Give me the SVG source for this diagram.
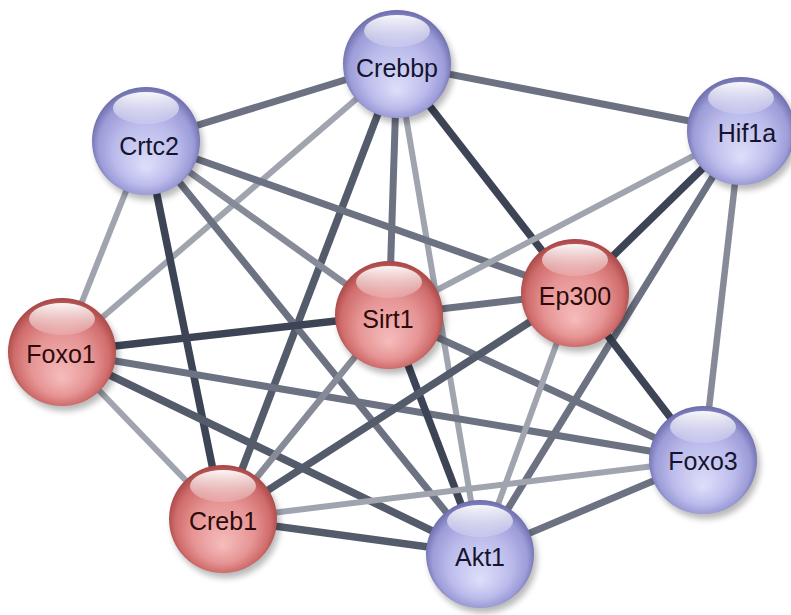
<svg xmlns="http://www.w3.org/2000/svg" width="791" height="615" viewBox="0 0 791 615">
<defs>
<style>
.e{fill:none;stroke-linecap:butt}
.d{stroke:#3d4455;stroke-width:7.5}
.md{stroke:#545b6b;stroke-width:7.5}
.m{stroke:#6c7282;stroke-width:7}
.lm{stroke:#868b97;stroke-width:6.5}
.l{stroke:#a0a4ae;stroke-width:6}
.lbl{font-family:"Liberation Sans",Arial,sans-serif;font-size:25px;text-anchor:middle;dominant-baseline:central}
.lb{fill:#14142e}
.lr{fill:#2e0a0a}
</style>
<radialGradient id="gb" cx="50%" cy="52%" r="52%" fx="50%" fy="75%">
<stop offset="0" stop-color="#dedefa"/>
<stop offset="0.55" stop-color="#bcbcec"/>
<stop offset="0.85" stop-color="#9c9cd8"/>
<stop offset="1" stop-color="#6c6cac"/>
</radialGradient>
<radialGradient id="gr" cx="50%" cy="52%" r="52%" fx="50%" fy="75%">
<stop offset="0" stop-color="#f6bcbc"/>
<stop offset="0.55" stop-color="#e69494"/>
<stop offset="0.85" stop-color="#d06c6c"/>
<stop offset="1" stop-color="#a84646"/>
</radialGradient>
<linearGradient id="hl" x1="0" y1="0" x2="0" y2="1">
<stop offset="0" stop-color="#ffffff" stop-opacity="0.95"/>
<stop offset="1" stop-color="#ffffff" stop-opacity="0.15"/>
</linearGradient>
<filter id="sh" x="-30%" y="-30%" width="160%" height="160%">
<feGaussianBlur stdDeviation="3"/>
</filter>
<g id="ballB">
<circle cx="3" cy="5" r="54" fill="#000" opacity="0.28" filter="url(#sh)"/>
<circle r="54" fill="url(#gb)"/>
<ellipse cx="0" cy="-33" rx="33" ry="16" fill="url(#hl)"/>
</g>
<g id="ballR">
<circle cx="3" cy="5" r="54" fill="#000" opacity="0.28" filter="url(#sh)"/>
<circle r="54" fill="url(#gr)"/>
<ellipse cx="0" cy="-33" rx="33" ry="16" fill="url(#hl)"/>
</g>
</defs>
<rect width="791" height="615" fill="#ffffff"/>
<g id="edges">
<line class="e m" x1="397" y1="64" x2="146" y2="141"/>
<line class="e m" x1="397" y1="64" x2="741" y2="131"/>
<line class="e d" x1="397" y1="64" x2="575" y2="293"/>
<line class="e m" x1="397" y1="64" x2="389" y2="315"/>
<line class="e l" x1="397" y1="64" x2="62" y2="352"/>
<line class="e md" x1="397" y1="64" x2="223" y2="519"/>
<line class="e l" x1="397" y1="64" x2="480" y2="554"/>
<line class="e l" x1="146" y1="141" x2="62" y2="352"/>
<line class="e d" x1="146" y1="141" x2="223" y2="519"/>
<line class="e lm" x1="146" y1="141" x2="389" y2="315"/>
<line class="e m" x1="146" y1="141" x2="575" y2="293"/>
<line class="e m" x1="146" y1="141" x2="480" y2="554"/>
<line class="e l" x1="741" y1="131" x2="389" y2="315"/>
<line class="e d" x1="741" y1="131" x2="575" y2="293"/>
<line class="e m" x1="741" y1="131" x2="480" y2="554"/>
<line class="e lm" x1="741" y1="131" x2="703" y2="460"/>
<line class="e d" x1="62" y1="352" x2="389" y2="315"/>
<line class="e l" x1="62" y1="352" x2="223" y2="519"/>
<line class="e md" x1="62" y1="352" x2="480" y2="554"/>
<line class="e m" x1="62" y1="352" x2="703" y2="460"/>
<line class="e m" x1="389" y1="315" x2="575" y2="293"/>
<line class="e m" x1="389" y1="315" x2="703" y2="460"/>
<line class="e d" x1="389" y1="315" x2="480" y2="554"/>
<line class="e lm" x1="389" y1="315" x2="223" y2="519"/>
<line class="e d" x1="575" y1="293" x2="703" y2="460"/>
<line class="e l" x1="575" y1="293" x2="480" y2="554"/>
<line class="e md" x1="575" y1="293" x2="223" y2="519"/>
<line class="e m" x1="703" y1="460" x2="480" y2="554"/>
<line class="e l" x1="703" y1="460" x2="223" y2="519"/>
<line class="e md" x1="223" y1="519" x2="480" y2="554"/>
</g>
<g id="Crebbp" transform="translate(397,64)"><use href="#ballB"/><text class="lbl lb" x="0" y="4">Crebbp</text></g>
<g id="Crtc2" transform="translate(146,141)"><use href="#ballB"/><text class="lbl lb" x="3" y="5">Crtc2</text></g>
<g id="Hif1a" transform="translate(741,131)"><use href="#ballB"/><text class="lbl lb" x="6" y="2">Hif1a</text></g>
<g id="Foxo1" transform="translate(62,352)"><use href="#ballR"/><text class="lbl lr" x="-1" y="2">Foxo1</text></g>
<g id="Sirt1" transform="translate(389,315)"><use href="#ballR"/><text class="lbl lr" x="-1" y="4">Sirt1</text></g>
<g id="Ep300" transform="translate(575,293)"><use href="#ballR"/><text class="lbl lr" x="0" y="3">Ep300</text></g>
<g id="Foxo3" transform="translate(703,460)"><use href="#ballB"/><text class="lbl lb" x="0" y="1">Foxo3</text></g>
<g id="Creb1" transform="translate(223,519)"><use href="#ballR"/><text class="lbl lr" x="0" y="2">Creb1</text></g>
<g id="Akt1" transform="translate(480,554)"><use href="#ballB"/><text class="lbl lb" x="0" y="3">Akt1</text></g>
</svg>
